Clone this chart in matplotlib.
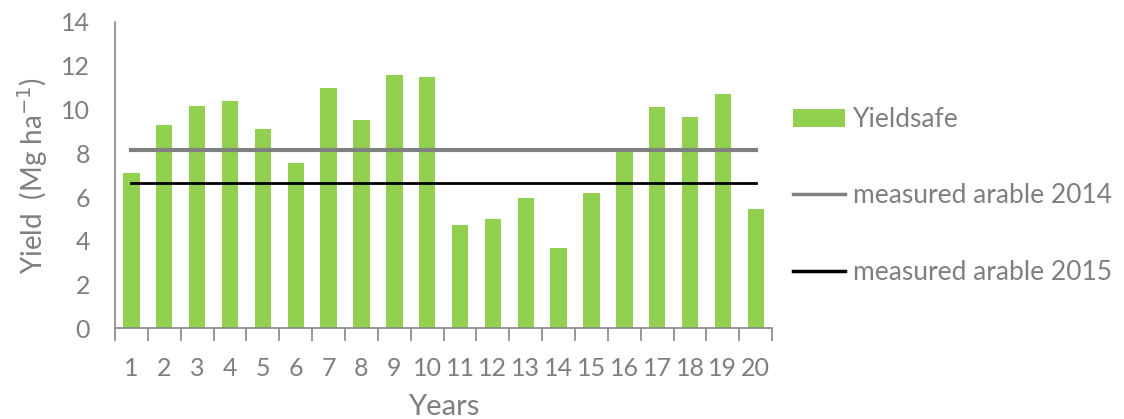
import matplotlib.pyplot as plt
import numpy as np

# yield per simulated year (Yieldsafe) vs measured arable yields

years = [str(i) for i in range(1, 21)]
yieldsafe = [7.1, 9.3, 10.15, 10.4, 9.1, 7.55, 11.0, 9.5, 11.6, 11.5,
             4.7, 5.0, 5.95, 3.65, 6.2, 8.1, 10.1, 9.65, 10.7, 5.45]
arable_2014 = 8.15
arable_2015 = 6.65

txt_color = '#7f7f7f'
plt.rcParams.update({'font.family': ['Lato', 'DejaVu Sans']})

fig = plt.figure(figsize=(11.24, 4.19), dpi=100)
ax = fig.add_axes([0.1023, 0.2165, 0.5847, 0.731])

x = np.arange(len(years))
bars = ax.bar(x, yieldsafe, width=0.5, color='#92d050', label='Yieldsafe', zorder=2)
l1, = ax.plot([x[0], x[-1]], [arable_2014, arable_2014], color='#808080', lw=3,
              label='measured arable 2014', zorder=3)
l2, = ax.plot([x[0], x[-1]], [arable_2015, arable_2015], color='black', lw=2,
              label='measured arable 2015', zorder=3)

ax.set_xlim(-0.5, len(years) - 0.5)
ax.set_ylim(0, 14)
ax.set_yticks(range(0, 15, 2))
ax.set_xticks(x)
ax.set_xticklabels(years)
ax.set_xticks(np.arange(-0.5, len(years), 1), minor=True)

for s in ['top', 'right']:
    ax.spines[s].set_visible(False)
for s in ['left', 'bottom']:
    ax.spines[s].set_color('#868686')
    ax.spines[s].set_linewidth(1.2)

ax.tick_params(axis='y', length=0, labelsize=18, labelcolor=txt_color, pad=18)
ax.tick_params(axis='x', which='major', length=0, labelsize=18,
               labelcolor=txt_color, pad=21)
ax.tick_params(axis='x', which='minor', length=9, width=1.2, color='#868686',
               direction='out')

ax.set_xlabel('Years', fontsize=21, color=txt_color, labelpad=10)
ax.set_ylabel('Yield  (Mg ha$^{-1}$)', fontsize=20, color=txt_color, labelpad=8)

leg = ax.legend([bars, l1, l2], ['Yieldsafe', 'measured arable 2014', 'measured arable 2015'],
                loc='center left', bbox_to_anchor=(0.995, 0.432), frameon=False,
                fontsize=19, labelcolor=txt_color, labelspacing=1.95,
                handlelength=2.0, handletextpad=0.3)
for h in leg.legend_handles[1:]:
    h.set_linewidth(2.5)

plt.savefig('out.png', dpi=100)
plt.close()
